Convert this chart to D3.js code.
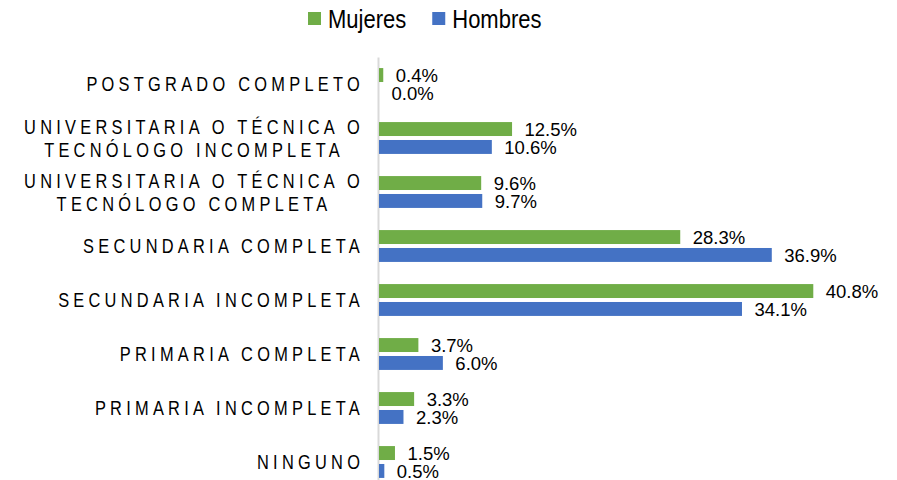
<!DOCTYPE html>
<html>
<head>
<meta charset="utf-8">
<script src="https://cdn.jsdelivr.net/npm/d3@7"></script>
<style>
  body { margin: 0; background: #fff; }
  text { font-family: "Liberation Sans", Arial, sans-serif; fill: #000; }
</style>
</head>
<body>
<svg id="chart"></svg>
<script>
// data
let categories = [
  "POSTGRADO COMPLETO",
  "UNIVERSITARIA O TÉCNICA O\nTECNÓLOGO INCOMPLETA",
  "UNIVERSITARIA O TÉCNICA O\nTECNÓLOGO COMPLETA",
  "SECUNDARIA COMPLETA",
  "SECUNDARIA INCOMPLETA",
  "PRIMARIA COMPLETA",
  "PRIMARIA INCOMPLETA",
  "NINGUNO"
]
let series = ["Mujeres", "Hombres"]
let mujeres = [0.4, 12.5, 9.6, 28.3, 40.8, 3.7, 3.3, 1.5]
let hombres = [0.0, 10.6, 9.7, 36.9, 34.1, 6.0, 2.3, 0.5]
let colors = ["#70ad47", "#4472c4"]

let width = 897
let height = 480

let svg = d3.select("#chart")
  .attr("width", width)
  .attr("height", height)

// one row per category and series
let rows = []
categories.forEach((c, i) => {
  rows.push({ cat: c, serie: "Mujeres", value: mujeres[i] })
  rows.push({ cat: c, serie: "Hombres", value: hombres[i] })
})

//STEP 1: scales
let xScale = d3.scaleLinear()
  .domain([0, 45])
  .range([379, 858])

let yScale = d3.scaleBand()
  .domain(categories)
  .range([57, 489])
  .paddingInner(0.41)
  .paddingOuter(0.205)

let ySub = d3.scaleBand()
  .domain(series)
  .range([0, yScale.bandwidth()])
  .paddingInner(0.222)

let color = d3.scaleOrdinal().domain(series).range(colors)

//STEP 2: vertical axis line
let axis = svg.append("g")
  .attr("transform", "translate(378, 0)")
  .call(d3.axisLeft(yScale).tickSize(0).tickSizeOuter(0).tickFormat(""))
axis.select(".domain").attr("stroke", "#d9d9d9").attr("stroke-width", 2)

//STEP 3: bars and value labels
svg.selectAll(".bar")
  .data(rows)
  .enter()
  .append("rect")
  .attr("class", "bar")
  .attr("x", xScale(0))
  .attr("y", d => yScale(d.cat) + ySub(d.serie))
  .attr("width", d => xScale(d.value) - xScale(0))
  .attr("height", ySub.bandwidth())
  .attr("fill", d => color(d.serie))

svg.selectAll(".value")
  .data(rows)
  .enter()
  .append("text")
  .attr("class", "value")
  .attr("x", d => xScale(d.value) + 12.5)
  .attr("y", d => yScale(d.cat) + ySub(d.serie) + ySub.bandwidth() / 2 + 7)
  .style("font-size", "18.5px")
  .text(d => d.value.toFixed(1) + "%")

//STEP 4: category labels (narrow, letter-spaced, wrapped lines centred)
let labelRight = 360
let sx = 0.82
let ls = 5.2
categories.forEach(c => {
  let lines = c.split("\n")
  let center = yScale(c) + yScale.bandwidth() / 2
  let g = svg.append("g")
  let items = lines.map((line, i) => {
    let gl = g.append("g")
    let t = gl.append("text")
      .style("font-size", "20px")
      .style("letter-spacing", ls + "px")
      .text(line)
    let w = (t.node().getComputedTextLength() - ls) * sx
    return { gl, w, y: center + 7 + (i - (lines.length - 1) / 2) * 23 }
  })
  let blockW = d3.max(items, d => d.w)
  let mid = labelRight - blockW / 2
  items.forEach(d => {
    d.gl.attr("transform", `translate(${mid - d.w / 2}, ${d.y}) scale(${sx}, 1)`)
  })
})

//STEP 5: legend
let legendX = 308
series.forEach((s, i) => {
  svg.append("rect")
    .attr("x", legendX)
    .attr("y", 12)
    .attr("width", 13)
    .attr("height", 13)
    .attr("fill", color(s))
  let gl = svg.append("g")
  let t = gl.append("text")
    .style("font-size", "25px")
    .text(s)
  let w = t.node().getComputedTextLength() * 0.88
  gl.attr("transform", `translate(${legendX + 20}, 28) scale(0.88, 1)`)
  legendX = legendX + 20 + w + 26
})
</script>
</body>
</html>
